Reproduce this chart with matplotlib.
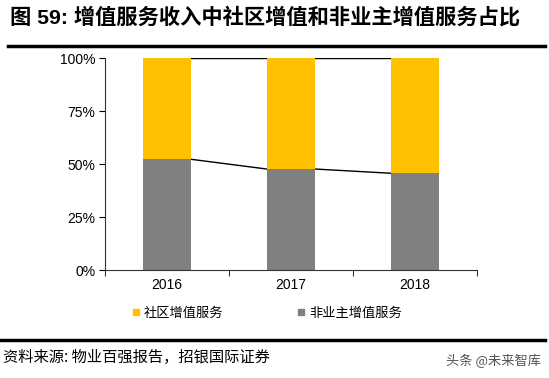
import matplotlib
matplotlib.use("Agg")
import matplotlib.pyplot as plt
from matplotlib.lines import Line2D

plt.rcParams['font.family'] = ['Liberation Sans', 'Noto Sans CJK SC', 'DejaVu Sans']

years = ["2016", "2017", "2018"]
non_owner = [52.3, 47.7, 45.7]     # 非业主增值服务 (%)
community = [100 - v for v in non_owner]  # 社区增值服务 (%)
yticks = [0, 25, 50, 75, 100]

title = "图 59: 增值服务收入中社区增值和非业主增值服务占比"
source = "资料来源: 物业百强报告，招银国际证券"
labels = ["社区增值服务", "非业主增值服务"]
c_yellow = "#FFC000"
c_gray = "#808080"

fig = plt.figure(figsize=(5.49, 3.78), dpi=100)
ax = fig.add_axes([0.191, 0.2857, 0.678, 0.560])

x = list(range(len(years)))
w = 0.39
ax.bar(x, non_owner, width=w, color=c_gray, zorder=2)
ax.bar(x, community, width=w, bottom=non_owner, color=c_yellow, zorder=2)

# connector lines between bars
for i in range(len(x) - 1):
    ax.plot([x[i] + w / 2, x[i + 1] - w / 2], [non_owner[i], non_owner[i + 1]],
            color="black", lw=1, zorder=1)
    ax.plot([x[i] + w / 2, x[i + 1] - w / 2], [100, 100],
            color="black", lw=1, zorder=1)

ax.set_xlim(-0.5, 2.5)
ax.set_ylim(0, 100)
ax.set_yticks(yticks)
ax.set_yticklabels([f"{v}%" for v in yticks], fontsize=10)
ax.set_xticks(x)
ax.set_xticklabels(years, fontsize=10)
ax.set_xticks([-0.5, 0.5, 1.5, 2.5], minor=True)
ax.tick_params(axis="x", which="major", length=0, pad=6)
ax.tick_params(axis="x", which="minor", length=4, direction="out")
ax.tick_params(axis="y", length=4, direction="out", pad=3)
for s in ["top", "right"]:
    ax.spines[s].set_visible(False)
for s in ["left", "bottom"]:
    ax.spines[s].set_color("#333333")

handles = [Line2D([], [], marker="s", ls="", color=c_yellow, markersize=5),
           Line2D([], [], marker="s", ls="", color=c_gray, markersize=5)]
fig.legend(handles, labels, loc="center", bbox_to_anchor=(0.485, 0.172), ncol=2,
           frameon=False, handlelength=0.8, handletextpad=0.2, columnspacing=5.5,
           prop={"family": ["Noto Sans CJK SC"], "size": 9.5})

fig.text(0.018, 0.955, title, fontsize=15.3, fontweight="bold", va="center",
         family=["Liberation Sans", "Noto Sans CJK SC"])
fig.add_artist(Line2D([0.015, 0.993], [0.878, 0.878], color="black", lw=2.5,
                      transform=fig.transFigure))
fig.add_artist(Line2D([0.0, 0.993], [0.1, 0.1], color="black", lw=2.5,
                      transform=fig.transFigure))
fig.text(0.006, 0.055, source, fontsize=11, va="center",
         family=["Noto Sans CJK SC", "DejaVu Sans"])
fig.text(0.985, 0.045, "头条 @未来智库", fontsize=9.5, va="center", ha="right",
         color="#555555", family=["Noto Sans CJK SC"])

fig.savefig("out.png", dpi=100)
